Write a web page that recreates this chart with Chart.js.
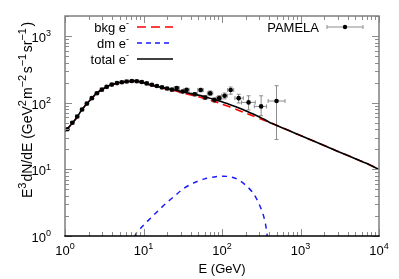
<!DOCTYPE html>
<html>
<head>
<meta charset="utf-8">
<script src="https://cdn.jsdelivr.net/npm/chart.js@4.4.0/dist/chart.umd.min.js"></script>
<style>
  html, body { margin: 0; padding: 0; background: #fff; }
</style>
</head>
<body>
<canvas id="c" width="399" height="279"></canvas>
<script>
// model curves: E (GeV) and E^3 dN/dE
const energy    = [1, 1.2, 1.4, 1.6, 1.8, 2, 2.5, 3, 3.5, 4, 5, 6, 7, 8, 10, 12, 15, 20, 25, 30, 40, 50, 60, 80, 100, 120, 150, 200, 250, 300, 350, 400, 500, 700, 1000, 2000, 3000, 5000, 7000, 10000];
const totalFlux = [37, 47, 59, 75, 90, 103, 137, 159, 177, 187, 201, 206, 211, 212, 200, 187, 176, 162, 155, 147, 137, 130, 123, 112, 103, 96, 87, 76, 67.5, 61, 56, 51, 45.5, 38.5, 32.2, 22.8, 18.6, 14.4, 12.2, 10];
const bkgFlux   = [37, 47, 59, 75, 90, 103, 137, 159, 177, 187, 201, 206, 211, 211, 198.5, 185, 173.7, 158.8, 151, 142.2, 131, 123, 115.8, 104.3, 95.1, 88.2, 79.8, 70, 63, 58, 54, 51, 45.5, 38.5, 32.2, 22.8, 18.6, 14.4, 12.2, 10];

const dmEnergy = [7, 8, 10, 12.7, 16, 20, 25, 32, 43, 60, 80, 100, 120, 154, 200, 250, 290, 330, 355, 375, 390];
const dmFlux   = [0.7, 1.07, 1.45, 1.92, 2.5, 3.2, 4.0, 5.1, 6.2, 7.2, 7.7, 7.9, 7.8, 7.2, 5.8, 4.4, 3.2, 2.2, 1.6, 1.05, 0.6];

// PAMELA electrons
const pamelaE    = [1.07, 1.24, 1.43, 1.65, 1.9, 2.2, 2.55, 2.95, 3.4, 3.95, 4.6, 5.3, 6.1, 7.1, 8.2, 9.5, 11, 12.8, 14.8, 17.2, 20, 23, 26.5, 31.5, 35.4, 45, 53.5, 61, 70.6, 80, 92, 108, 129, 163, 218, 315, 495];
const pamelaFlux = [40, 50, 62, 79, 97, 117, 139, 157, 173, 187, 197, 203, 208, 212, 210, 205, 195, 186, 178, 170, 163, 157, 166, 147, 156, 134, 155, 120, 139, 110, 117, 127, 155, 117, 101, 88, 106];
const pamelaLo   = [38.8, 48.5, 60.1, 76.6, 94.1, 113.5, 134.8, 152.3, 167.8, 181.4, 191.1, 196.9, 201.8, 205.6, 203.7, 198.9, 189.2, 180.4, 172.7, 164.9, 158.1, 150.7, 157.7, 139.7, 148.2, 126, 145.7, 111.6, 127.9, 101.2, 106.5, 114.3, 134, 99, 78, 64, 28];
const pamelaHi   = [41.2, 51.5, 63.9, 81.4, 99.9, 120.5, 143.2, 161.7, 178.2, 192.6, 202.9, 209.1, 214.2, 218.4, 216.3, 211.1, 200.8, 191.6, 183.3, 175.1, 167.9, 163.3, 174.3, 154.3, 163.8, 142, 164.3, 128.4, 150.1, 118.8, 127.5, 139.7, 172, 134, 127, 127, 180];
const pamelaBinLo = [1.02, 1.18, 1.36, 1.57, 1.81, 2.09, 2.42, 2.8, 3.23, 3.75, 4.37, 5.04, 5.8, 6.75, 7.8, 9.0, 10.4, 12.2, 14.1, 16.3, 19, 21.8, 24.5, 29, 32.6, 41.4, 49.2, 56.1, 65, 73.6, 84.6, 99, 118, 146, 177, 258, 387];
const pamelaBinHi = [1.12, 1.3, 1.5, 1.73, 2.0, 2.31, 2.68, 3.1, 3.57, 4.15, 4.83, 5.57, 6.4, 7.45, 8.6, 10.0, 11.6, 13.4, 15.5, 18.1, 21, 24.2, 28.6, 34, 38.2, 48.6, 57.8, 65.9, 76.2, 86.4, 99.4, 117, 141, 187, 265, 370, 635];

const xExponents = [0, 1, 2, 3, 4];
const yExponents = [0, 1, 2, 3];

const FONT = '"Liberation Sans", Arial, sans-serif';
const SIZE = 13;

function pts(xs, ys) {
  return xs.map((x, i) => ({ x, y: ys[i] }));
}

function supSize(s, size) {
  return s.sup ? (s.supPx || Math.round(size * 0.72)) : size;
}

function richWidth(ctx, segs, size) {
  let w = 0;
  for (const s of segs) {
    ctx.font = supSize(s, size) + "px " + FONT;
    w += ctx.measureText(s.t).width + (s.gap || 0);
  }
  return w;
}

// x = left edge, y = baseline
function drawRich(ctx, segs, x, y, size) {
  for (const s of segs) {
    ctx.font = supSize(s, size) + "px " + FONT;
    ctx.fillText(s.t, x, s.sup ? y - size * 0.45 : y);
    x += ctx.measureText(s.t).width + (s.gap || 0);
  }
}

const errorBars = {
  id: "errorBars",
  beforeDatasetsDraw(chart) {
    const { ctx, scales: { x, y } } = chart;
    ctx.save();
    ctx.strokeStyle = "#8c8c8c";
    ctx.lineWidth = 1;
    pamelaE.forEach((e, i) => {
      const px = x.getPixelForValue(e);
      const py = y.getPixelForValue(pamelaFlux[i]);
      const y0 = y.getPixelForValue(pamelaLo[i]);
      const y1 = y.getPixelForValue(pamelaHi[i]);
      const x0 = x.getPixelForValue(pamelaBinLo[i]);
      const x1 = x.getPixelForValue(pamelaBinHi[i]);
      ctx.beginPath();
      ctx.moveTo(px, y0); ctx.lineTo(px, y1);
      ctx.moveTo(x0, py); ctx.lineTo(x1, py);
      ctx.moveTo(px - 2, y0); ctx.lineTo(px + 2, y0);
      ctx.moveTo(px - 2, y1); ctx.lineTo(px + 2, y1);
      ctx.moveTo(x0, py - 2); ctx.lineTo(x0, py + 2);
      ctx.moveTo(x1, py - 2); ctx.lineTo(x1, py + 2);
      ctx.stroke();
    });
    ctx.restore();
  }
};

const frame = {
  id: "frame",
  afterDraw(chart) {
    const { ctx, chartArea: a, scales: { x, y } } = chart;
    ctx.save();

    // inward ticks on all four sides
    ctx.strokeStyle = "#8c8c8c";
    ctx.lineWidth = 1;
    ctx.beginPath();
    for (let d = 0; d <= 4; d++) {
      for (let m = 1; m < 10; m++) {
        const v = m * Math.pow(10, d);
        if (v > 10000) break;
        const px = Math.round(x.getPixelForValue(v)) + 0.5;
        const len = m === 1 ? 7 : 4;
        ctx.moveTo(px, a.bottom); ctx.lineTo(px, a.bottom - len);
        ctx.moveTo(px, a.top); ctx.lineTo(px, a.top + len);
      }
    }
    for (let d = 0; d <= 3; d++) {
      for (let m = 1; m < 10; m++) {
        const v = m * Math.pow(10, d);
        if (v > 2000) break;
        const py = Math.round(y.getPixelForValue(v)) + 0.5;
        const len = m === 1 ? 7 : 4;
        ctx.moveTo(a.left, py); ctx.lineTo(a.left + len, py);
        ctx.moveTo(a.right, py); ctx.lineTo(a.right - len, py);
      }
    }
    ctx.stroke();

    // border
    ctx.lineWidth = 1.5;
    ctx.strokeStyle = "#7f7f7f";
    ctx.beginPath();
    ctx.moveTo(a.left, a.bottom); ctx.lineTo(a.left, a.top);
    ctx.lineTo(a.right, a.top); ctx.lineTo(a.right, a.bottom);
    ctx.stroke();
    ctx.strokeStyle = "#000";
    ctx.beginPath();
    ctx.moveTo(a.left - 0.75, a.bottom); ctx.lineTo(a.right + 0.75, a.bottom);
    ctx.stroke();

    // tick labels
    ctx.fillStyle = "#000";
    ctx.textAlign = "left";
    ctx.textBaseline = "alphabetic";
    xExponents.forEach(p => {
      const segs = [{ t: "10" }, { t: String(p), sup: true }];
      const w = richWidth(ctx, segs, SIZE);
      drawRich(ctx, segs, x.getPixelForValue(Math.pow(10, p)) - w / 2, 255, SIZE);
    });
    yExponents.forEach(p => {
      const segs = [{ t: "10" }, { t: String(p), sup: true }];
      const w = richWidth(ctx, segs, SIZE);
      drawRich(ctx, segs, 51 - w, y.getPixelForValue(Math.pow(10, p)) + 6, SIZE);
    });

    // axis titles
    const xt = [{ t: "E (GeV)" }];
    drawRich(ctx, xt, (a.left + a.right) / 2 - richWidth(ctx, xt, SIZE) / 2, 273, SIZE);

    const yt = [
      { t: "E" }, { t: "3", sup: true, supPx: 11, gap: 1 }, { t: "dN/dE (GeV" },
      { t: "2", sup: true, supPx: 11, gap: 1 }, { t: "m" },
      { t: "\u22122", sup: true, supPx: 11, gap: 1.5 }, { t: "s" },
      { t: "\u22121", sup: true, supPx: 11, gap: 1.5 }, { t: "sr" },
      { t: "\u22121", sup: true, supPx: 11, gap: 1.5 }, { t: ")" }
    ];
    const ySize = 14;
    const yw = richWidth(ctx, yt, ySize);
    ctx.save();
    ctx.translate(32, 110);
    ctx.rotate(-Math.PI / 2);
    drawRich(ctx, yt, -yw / 2, 0, ySize);
    ctx.restore();

    // key, top left
    const rows = [
      { name: "bkg", color: "#ff0000", dash: [9, 5], yc: 27 },
      { name: "dm", color: "#1a1aff", dash: [5, 4], yc: 43 },
      { name: "total", color: "#000000", dash: [], yc: 59 }
    ];
    rows.forEach(r => {
      const segs = [{ t: r.name + " e" }, { t: "-", sup: true }];
      ctx.fillStyle = "#000";
      drawRich(ctx, segs, 129 - richWidth(ctx, segs, SIZE), r.yc + 4.5, SIZE);
      ctx.strokeStyle = r.color;
      ctx.lineWidth = 1.5;
      ctx.setLineDash(r.dash);
      ctx.beginPath();
      ctx.moveTo(137, r.yc); ctx.lineTo(173, r.yc);
      ctx.stroke();
      ctx.setLineDash([]);
    });

    // key, top right
    const pt = [{ t: "PAMELA" }];
    ctx.fillStyle = "#000";
    drawRich(ctx, pt, 319 - richWidth(ctx, pt, SIZE), 31.5, SIZE);
    ctx.strokeStyle = "#8c8c8c";
    ctx.lineWidth = 1;
    ctx.beginPath();
    ctx.moveTo(327, 27); ctx.lineTo(363, 27);
    ctx.moveTo(327, 25); ctx.lineTo(327, 29);
    ctx.moveTo(363, 25); ctx.lineTo(363, 29);
    ctx.stroke();
    ctx.fillStyle = "#000";
    ctx.beginPath();
    ctx.arc(345, 27, 2.2, 0, Math.PI * 2);
    ctx.fill();

    ctx.restore();
  }
};

new Chart(document.getElementById("c"), {
  type: "line",
  data: {
    datasets: [
      {
        label: "PAMELA",
        data: pts(pamelaE, pamelaFlux),
        showLine: false,
        pointRadius: 2.3,
        pointBackgroundColor: "#000",
        pointBorderWidth: 0,
        order: 0
      },
      {
        label: "total e-",
        data: pts(energy, totalFlux),
        borderColor: "#000",
        borderWidth: 1.6,
        pointRadius: 0,
        tension: 0.2,
        order: 1
      },
      {
        label: "bkg e-",
        data: pts(energy, bkgFlux),
        borderColor: "#ff0000",
        borderWidth: 1.6,
        borderDash: [8, 5],
        pointRadius: 0,
        tension: 0.2,
        order: 2
      },
      {
        label: "dm e-",
        data: pts(dmEnergy, dmFlux),
        borderColor: "#1a1aff",
        borderWidth: 1.5,
        borderDash: [5, 5],
        pointRadius: 0,
        tension: 0.3,
        order: 3
      }
    ]
  },
  options: {
    responsive: false,
    animation: false,
    layout: { padding: { left: 65, top: 16, right: 20, bottom: 43 } },
    plugins: { legend: { display: false }, tooltip: { enabled: false } },
    scales: {
      x: { type: "logarithmic", min: 1, max: 10000, display: false },
      y: { type: "logarithmic", min: 1, max: 2000, display: false }
    }
  },
  plugins: [errorBars, frame]
});
</script>
</body>
</html>
